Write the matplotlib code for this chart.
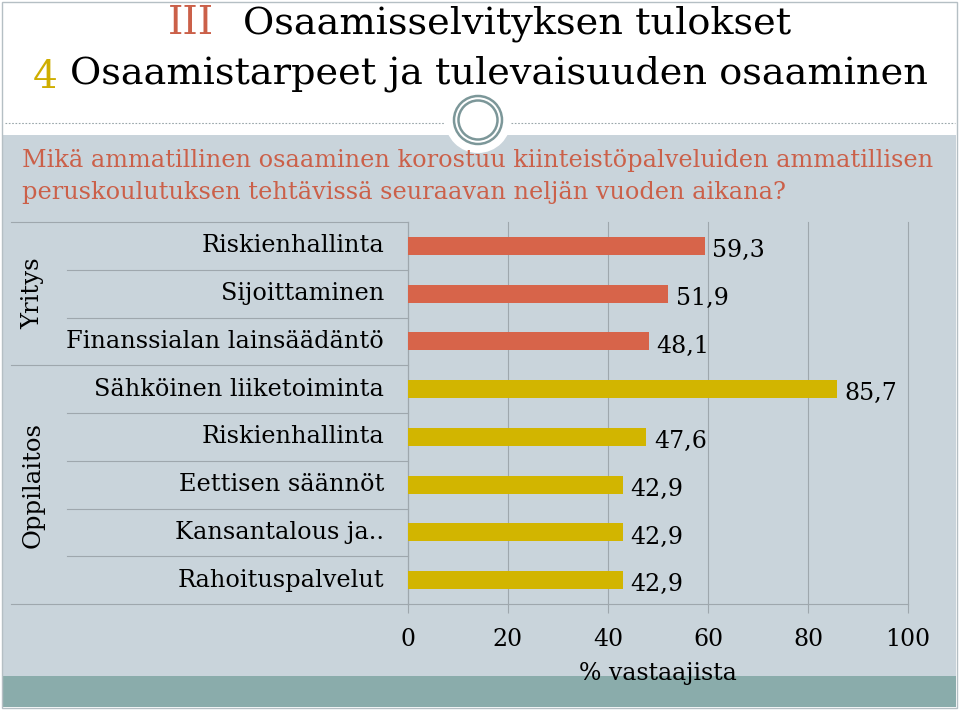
import matplotlib
matplotlib.use('Agg')
import matplotlib.pyplot as plt
from matplotlib.patches import Rectangle, Circle
from matplotlib.transforms import blended_transform_factory

# data
categories = ['Riskienhallinta', 'Sijoittaminen', 'Finanssialan lainsäädäntö',
              'Sähköinen liiketoiminta', 'Riskienhallinta', 'Eettisen säännöt',
              'Kansantalous ja..', 'Rahoituspalvelut']
values = [59.3, 51.9, 48.1, 85.7, 47.6, 42.9, 42.9, 42.9]
groups = ['Yritys', 'Yritys', 'Yritys', 'Oppilaitos', 'Oppilaitos', 'Oppilaitos',
          'Oppilaitos', 'Oppilaitos']
group_names = ['Yritys', 'Oppilaitos']
xticks = [0, 20, 40, 60, 80, 100]
value_labels = ['59,3', '51,9', '48,1', '85,7', '47,6', '42,9', '42,9', '42,9']

RED = '#d7644a'
YELLOW = '#d2b500'
BG = '#c9d4db'
TEAL = '#8aacab'
ORANGE_TXT = '#cb6049'
GRID = '#9ea7ad'

plt.rcParams['font.family'] = ['DejaVu Serif']

W, H = 960, 712
fig = plt.figure(figsize=(9.6, 7.12), dpi=100)
fig.patch.set_facecolor('white')


def fx(x):
    return x / W


def fy(y):
    return 1 - y / H


# slide background
fig.patches.append(Rectangle((fx(3), fy(676)), fx(953), (676 - 135) / H,
                             transform=fig.transFigure, facecolor=BG, edgecolor='none', zorder=0))
fig.patches.append(Rectangle((fx(3), fy(707)), fx(953), 31 / H,
                             transform=fig.transFigure, facecolor=TEAL, edgecolor='none', zorder=0))
fig.patches.append(Rectangle((fx(2), fy(708)), fx(955), 706 / H,
                             transform=fig.transFigure, facecolor='none', edgecolor='#b5bfc4',
                             lw=1, zorder=1))

# dotted divider and circle ornament
for x0, x1 in [(5, 445), (511, 955)]:
    fig.lines.append(plt.Line2D([fx(x0), fx(x1)], [fy(123), fy(123)], transform=fig.transFigure,
                                color='#9aa7aa', lw=0.8, ls=(0, (1.5, 1.5))))
oax = fig.add_axes([0, 0, 1, 1], zorder=2)
oax.set_xlim(0, W)
oax.set_ylim(H, 0)
oax.axis('off')
oax.add_patch(Circle((478, 120), 33, facecolor='white', edgecolor='none'))
oax.add_patch(Circle((478, 120), 24, facecolor='white', edgecolor='#7c9799', lw=1.8))
oax.add_patch(Circle((478, 120), 19.5, facecolor='none', edgecolor='#7c9799', lw=1.8))

# titles
fig.text(fx(168), fy(24), 'III', color=ORANGE_TXT, fontsize=28, va='center', ha='left')
fig.text(fx(243), fy(24), 'Osaamisselvityksen tulokset', color='black', fontsize=27.5,
         va='center', ha='left')
fig.text(fx(33), fy(78), '4', color='#cfae00', fontsize=28, va='center', ha='left')
fig.text(fx(70), fy(74), 'Osaamistarpeet ja tulevaisuuden osaaminen', color='black',
         fontsize=27.5, va='center', ha='left')
fig.text(fx(22), fy(160), 'Mikä ammatillinen osaaminen korostuu kiinteistöpalveluiden ammatillisen',
         color=ORANGE_TXT, fontsize=17.3, va='center', ha='left')
fig.text(fx(22), fy(193), 'peruskoulutuksen tehtävissä seuraavan neljän vuoden aikana?',
         color=ORANGE_TXT, fontsize=17.3, va='center', ha='left')

# chart
ax = fig.add_axes([fx(408), fy(604), fx(500), (604 - 222) / H], zorder=3)
ax.set_facecolor('none')
pos = list(range(len(categories)))
colors = [RED if g == 'Yritys' else YELLOW for g in groups]
ax.barh(pos, values, height=0.38, color=colors, zorder=3)
ax.set_xlim(0, 100)
ax.set_ylim(len(categories) - 0.5, -0.5)

ax.set_xticks(xticks)
ax.set_xticklabels([str(t) for t in xticks], fontsize=17)
ax.tick_params(axis='x', length=6.5, width=0.8, color=GRID, pad=11)
ax.set_yticks([])
ax.xaxis.grid(True, color=GRID, lw=0.8, zorder=0)
for gl in ax.get_xgridlines():
    gl.set_clip_on(False)
for s in ['top', 'right']:
    ax.spines[s].set_visible(False)
for s in ['left', 'bottom']:
    ax.spines[s].set_color(GRID)
    ax.spines[s].set_linewidth(0.8)
ax.set_xlabel('% vastaajista', fontsize=17, labelpad=8)

for p, v, lab in zip(pos, values, value_labels):
    ax.text(v + 1.6, p + 0.1, lab, fontsize=17, va='center', ha='left', zorder=4)

# category labels and separators on the left
tr = blended_transform_factory(fig.transFigure, ax.transData)
for p, c in zip(pos, categories):
    ax.text(fx(384), p, c, transform=tr, fontsize=17.3, va='center', ha='right')
for i in range(len(categories) + 1):
    y = i - 0.5
    if i == 0 or i == len(categories) or groups[i - 1] != groups[i]:
        x0 = fx(11)
    else:
        x0 = fx(67)
    ax.plot([x0, fx(408)], [y, y], transform=tr, color=GRID, lw=0.8, clip_on=False)

# group labels
for g in group_names:
    idx = [i for i, gg in enumerate(groups) if gg == g]
    mid = (idx[0] + idx[-1]) / 2
    ax.text(fx(33), mid, g, transform=tr, rotation=90, fontsize=17.5, va='center', ha='center')

fig.savefig('out.png', dpi=100, facecolor=fig.get_facecolor())
